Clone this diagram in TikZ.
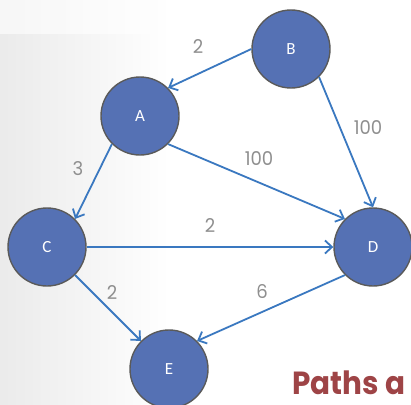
\documentclass[tikz,border=0pt]{standalone}
\usepackage{fontspec}
\setmainfont{Poppins}
\newfontfamily\letterfont{Carlito}
\usetikzlibrary{arrows.meta}
\definecolor{nodefill}{HTML}{5571B4}
\definecolor{nodeline}{HTML}{5A5A5A}
\definecolor{edgeblue}{HTML}{3A78C0}
\definecolor{weightgray}{HTML}{8F8F8F}
\definecolor{titlered}{HTML}{9E4446}
\tikzset{
  vertex/.style={circle, draw=nodeline, line width=1.4pt, fill=nodefill,
    minimum size=78pt, inner sep=0pt, text=white, font=\letterfont\fontsize{17}{17}\selectfont},
  edge/.style={draw=edgeblue, line width=1.8pt,
    -{Straight Barb[length=7pt, width=13pt, line width=1.8pt]}},
  weight/.style={text=weightgray, font=\fontsize{19}{19}\selectfont\addfontfeatures{FakeStretch=0.95}, inner sep=0pt}
}
\begin{document}
\begin{tikzpicture}[x=1pt, y=-1pt]
  % canvas and soft grey backdrop on the left
  \useasboundingbox (0,0) rectangle (411,404);
  \fill[white] (0,0) rectangle (411,404);
  \shade[left color=black!8, right color=white] (0,0) rectangle (170,404);
  \fill[white, opacity=0.6] (0,0) rectangle (150,34);

  % vertices
  \node[vertex] (B) at (291,49) {B};
  \node[vertex] (A) at (140,116) {A};
  \node[vertex] (C) at (47,247) {C};
  \node[vertex] (D) at (373,247) {D};
  \node[vertex] (E) at (169,369) {E};

  % directed edges between connection points
  \draw[edge] (B.west) -- (A.north east);
  \draw[edge] (B.south east) -- (D.north);
  \draw[edge] (A.south east) -- (D.north west);
  \draw[edge] (A.south west) -- (C.north east);
  \draw[edge] (C.east) -- (D.west);
  \draw[edge] (C.south east) -- (E.north west);
  \draw[edge] (D.south west) -- (E.north east);

  % edge weights
  \node[weight] (wBA) at (198,47) {2};
  \node[weight] (wBD) at (368,128) {100};
  \node[weight] (wAD) at (259,159) {100};
  \node[weight] (wAC) at (78,169) {3};
  \node[weight] (wCD) at (210,226) {2};
  \node[weight] (wCE) at (112,293) {2};
  \node[weight] (wDE) at (262,292) {6};

  % title at the lower right
  \node[anchor=base west, inner sep=0pt, text=titlered,
        font=\bfseries\fontsize{32}{32}\selectfont\addfontfeatures{FakeStretch=0.92}] (title) at (292,394) {Paths a};
\end{tikzpicture}
\end{document}
